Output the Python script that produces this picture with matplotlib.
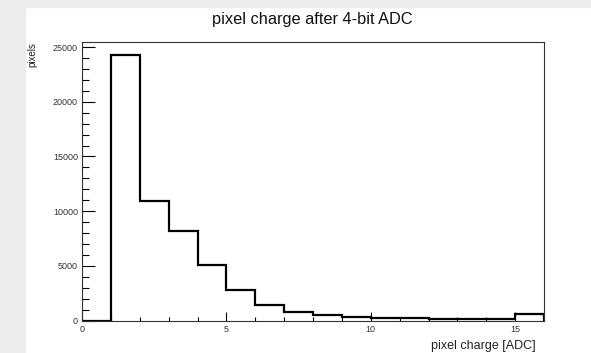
import matplotlib
matplotlib.use("Agg")
import matplotlib.pyplot as plt
from matplotlib.patches import Rectangle
from matplotlib.ticker import MultipleLocator
import numpy as np

# Data
bin_edges = list(range(0, 17))
counts = [0, 24300, 10900, 8150, 5050, 2820, 1420, 750, 480, 340, 250, 240, 140, 140, 140, 570]
title = "pixel charge after 4-bit ADC"
xlabel = "pixel charge [ADC]"
ylabel = "pixels"

plt.rcParams['font.family'] = ['Liberation Sans', 'DejaVu Sans']

W, H = 591, 353
fig = plt.figure(figsize=(W / 100, H / 100), dpi=100)
fig.patch.set_facecolor('white')
gray = '#ececec'
fig.patches.append(Rectangle((0, 0), 25 / W, 1, transform=fig.transFigure, color=gray, zorder=-10))
fig.patches.append(Rectangle((0, 1 - 7 / H), 1, 7 / H, transform=fig.transFigure, color=gray, zorder=-10))

left, right = 82 / W, 544 / W
bottom, top = 1 - 320.5 / H, 1 - 41.5 / H
ax = fig.add_axes([left, bottom, right - left, top - bottom])

ax.stairs(counts, bin_edges, color='black', lw=1.6, baseline=0)
ax.set_xlim(0, 16)
ax.set_ylim(0, max(counts) * 1.05)

for s in ax.spines.values():
    s.set_linewidth(0.8)
    s.set_color('#333333')

ax.xaxis.set_major_locator(MultipleLocator(5))
ax.xaxis.set_minor_locator(MultipleLocator(1))
ax.yaxis.set_major_locator(MultipleLocator(5000))
ax.yaxis.set_minor_locator(MultipleLocator(1000))

ax.tick_params(axis='y', which='major', direction='in', length=9, width=0.8, pad=3, labelsize=6.5, labelcolor='#333333')
ax.tick_params(axis='y', which='minor', direction='in', length=4.8, width=0.8)
ax.tick_params(axis='x', which='major', direction='in', length=6.5, width=0.8, pad=3, labelsize=6.5, labelcolor='#333333')
ax.tick_params(axis='x', which='minor', direction='in', length=3.2, width=0.8)
ax.tick_params(top=False, right=False, which='both')

fig.text(312 / W, 1 - 19.5 / H, title, ha='center', va='center', fontsize=11.8, color='#111111')
fig.text(32 / W, 1 - 42 / H, ylabel, rotation=90, ha='center', va='top', fontsize=7, color='#222222')
fig.text(536 / W, 1 - 346 / H, xlabel, ha='right', va='center', fontsize=9, color='#222222')

fig.savefig('out.png', dpi=100)
